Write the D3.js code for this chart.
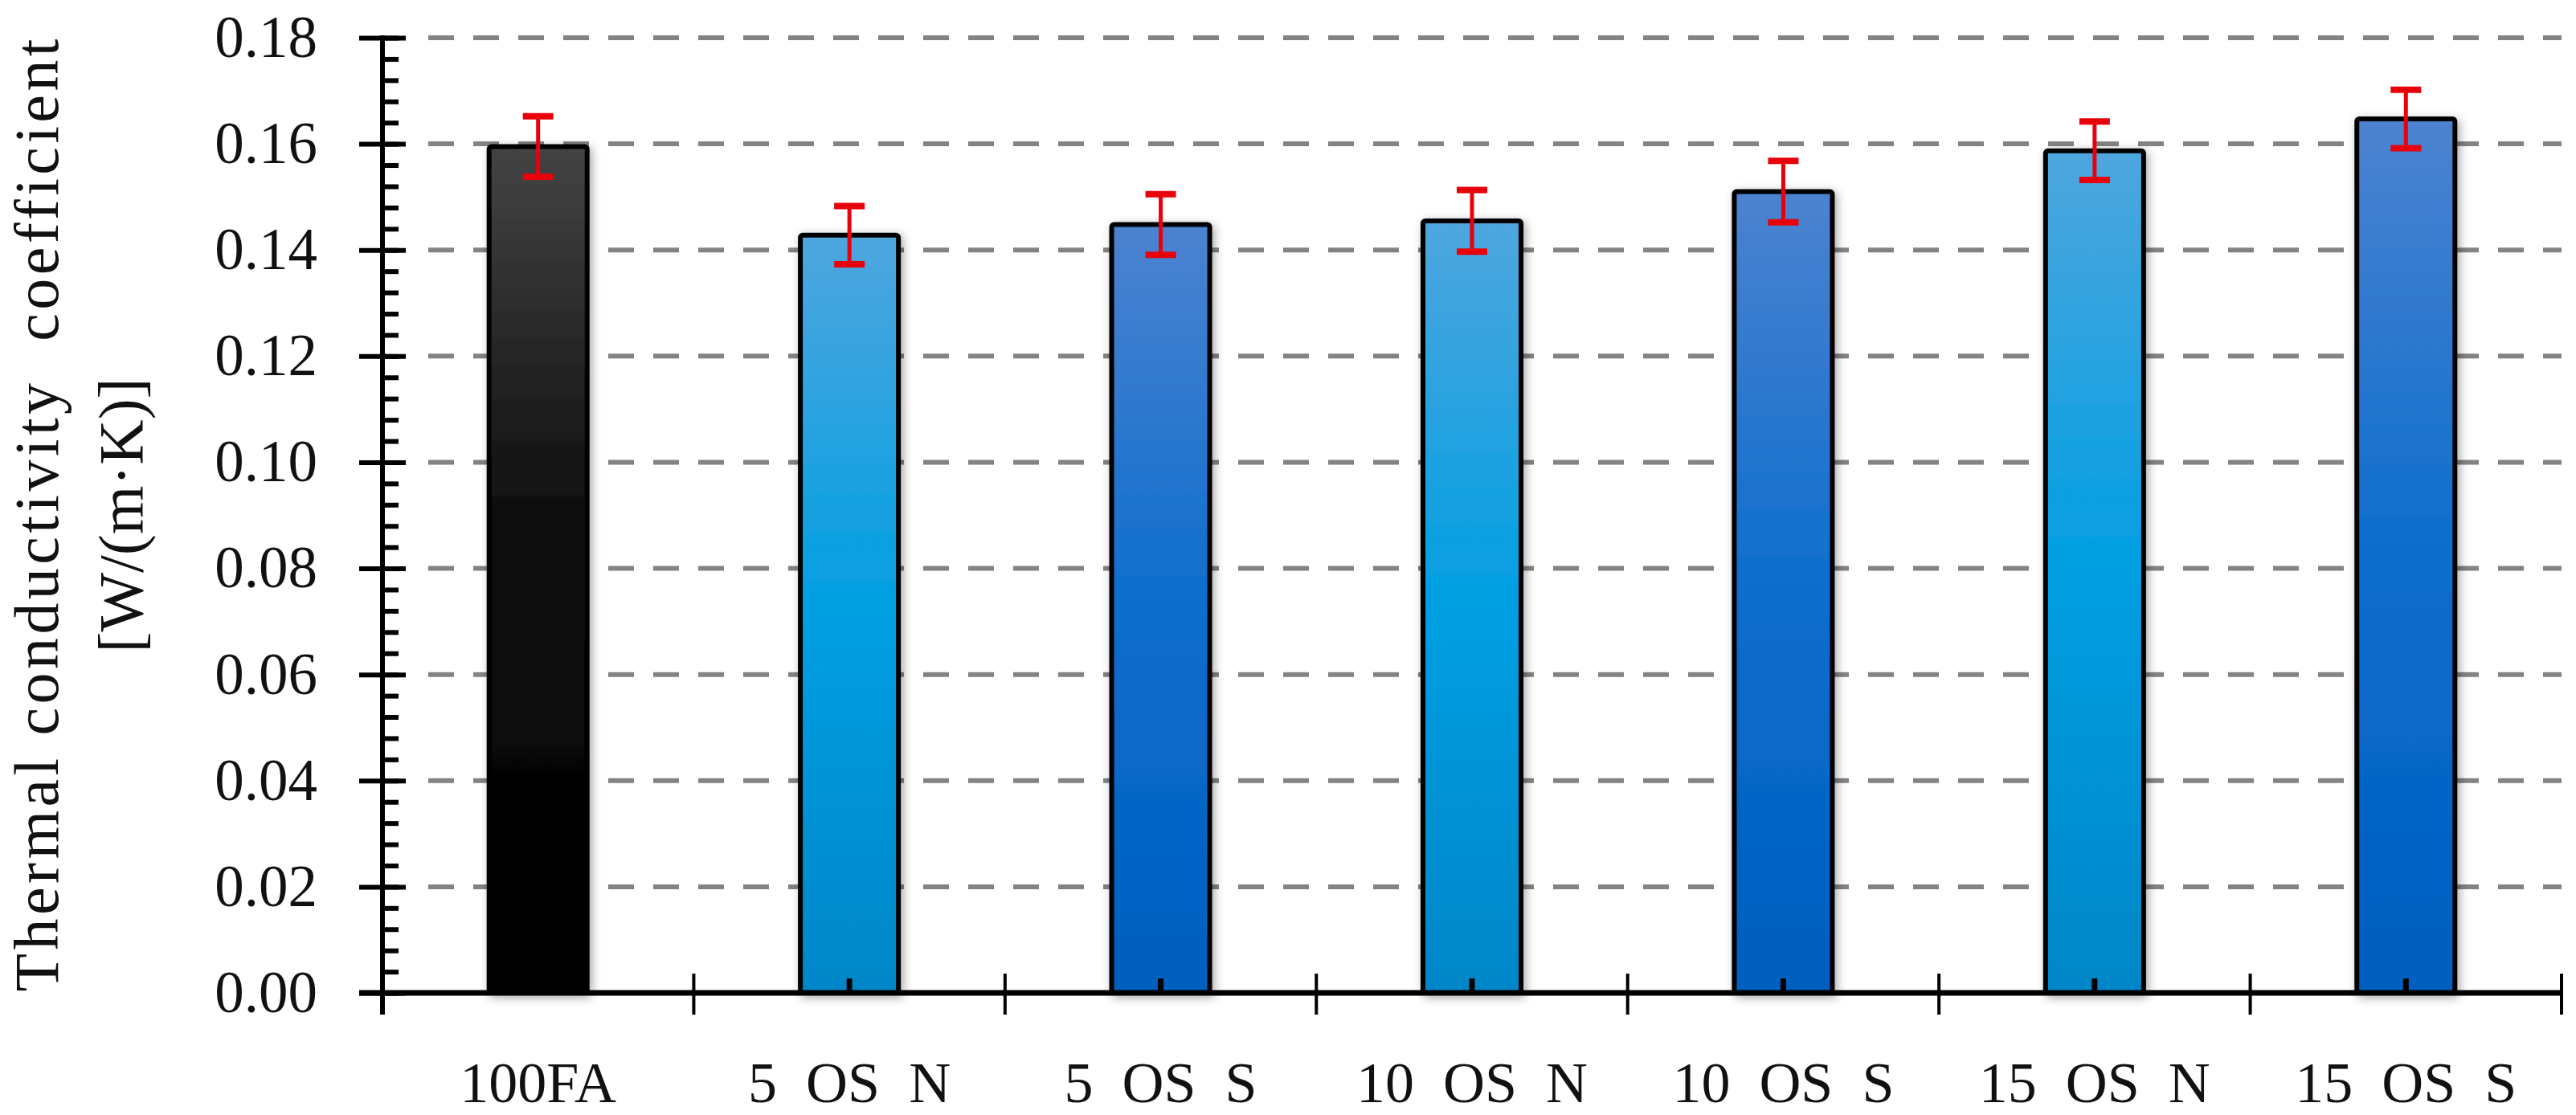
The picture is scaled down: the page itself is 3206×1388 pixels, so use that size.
<!DOCTYPE html>
<html><head><meta charset="utf-8">
<script src="https://cdn.jsdelivr.net/npm/d3@7"></script>
<style>
html,body{margin:0;padding:0;background:#fff;}
svg{display:block;}
text{font-family:"Liberation Serif","Times New Roman",serif;fill:#111;}
</style>
</head><body>
<svg id="chart" width="3206" height="1388"></svg>
<script>
// ---- data ----
const categories = ["100FA", "5  OS  N", "5  OS  S", "10  OS  N", "10  OS  S", "15  OS  N", "15  OS  S"];
const values = [0.1595, 0.1428, 0.1448, 0.1455, 0.1510, 0.1587, 0.1647];
const errors = [0.0057, 0.0055, 0.0057, 0.0058, 0.0058, 0.0055, 0.0055];
const barGroups = ["ref", "N", "S", "N", "S", "N", "S"];
const yTickValues = [0, 0.02, 0.04, 0.06, 0.08, 0.10, 0.12, 0.14, 0.16, 0.18];
const yMinorTickValues = d3.range(0, 0.1801, 0.004);
const yLabelLines = ["Thermal conductivity  coefficient", "[W/(m·K)]"];

// ---- layout ----
const W = 3206, H = 1388;
const margin = {left: 476, right: 18, top: 47, bottom: 152};
const svg = d3.select("#chart");
svg.append("rect").attr("width", W).attr("height", H).attr("fill", "#fff");

const x = d3.scaleBand().domain(categories).range([margin.left, W - margin.right]).padding(0);
const y = d3.scaleLinear().domain([0, 0.18]).range([H - margin.bottom, margin.top]);
const barW = x.bandwidth() * 0.315;

// ---- defs ----
const defs = svg.append("defs");
const grads = {
  ref: [["0%", "#444444"], ["45%", "#0d0d0d"], ["100%", "#000000"]],
  N: [["0%", "#4fa6de"], ["50%", "#009fe2"], ["100%", "#0086c8"]],
  S: [["0%", "#4c83d0"], ["50%", "#0c6dcd"], ["100%", "#005fbf"]]
};
Object.entries(grads).forEach(([k, stops]) => {
  const g = defs.append("linearGradient").attr("id", "g_" + k)
    .attr("x1", 0).attr("y1", 0).attr("x2", 0).attr("y2", 1);
  stops.forEach(s => g.append("stop").attr("offset", s[0]).attr("stop-color", s[1]));
});
const f = defs.append("filter").attr("id", "shadow")
  .attr("x", "-40%").attr("y", "-10%").attr("width", "180%").attr("height", "120%");
f.append("feDropShadow").attr("dx", 3).attr("dy", 3).attr("stdDeviation", 6)
  .attr("flood-color", "#000").attr("flood-opacity", 0.35);

// ---- gridlines ----
svg.append("g").selectAll("line")
  .data(yTickValues.filter(v => v > 0))
  .join("line")
  .attr("x1", margin.left + 57).attr("x2", W - margin.right)
  .attr("y1", d => y(d)).attr("y2", d => y(d))
  .attr("stroke", "#838383").attr("stroke-width", 6)
  .attr("stroke-dasharray", "32,24");

// ---- bars ----
svg.append("g").selectAll("rect")
  .data(categories)
  .join("rect")
  .attr("x", d => x(d) + x.bandwidth() / 2 - barW / 2)
  .attr("width", barW)
  .attr("y", (d, i) => y(values[i]))
  .attr("height", (d, i) => y(0) - y(values[i]))
  .attr("rx", 3)
  .attr("fill", (d, i) => `url(#g_${barGroups[i]})`)
  .attr("stroke", "#000").attr("stroke-width", 6)
  .attr("stroke-linejoin", "round")
  .attr("filter", "url(#shadow)");

// ---- error bars ----
const eg = svg.append("g").attr("stroke", "#e8000b");
categories.forEach((c, i) => {
  const cx = x(c) + x.bandwidth() / 2;
  const capW = 38;
  eg.append("line").attr("x1", cx).attr("x2", cx)
    .attr("y1", y(values[i] + errors[i])).attr("y2", y(values[i] - errors[i]))
    .attr("stroke-width", 5);
  [values[i] + errors[i], values[i] - errors[i]].forEach(v => {
    eg.append("line").attr("x1", cx - capW / 2).attr("x2", cx + capW / 2)
      .attr("y1", y(v)).attr("y2", y(v)).attr("stroke-width", 8);
  });
});

// ---- y axis ----
const yAxisG = svg.append("g").attr("transform", `translate(${margin.left},0)`);
yAxisG.append("g")
  .call(d3.axisLeft(y).tickValues(yMinorTickValues).tickSize(-20).tickFormat(""))
  .call(g => g.select(".domain").remove())
  .call(g => g.selectAll("line").attr("stroke", "#000").attr("stroke-width", 6));
yAxisG.append("g")
  .call(d3.axisLeft(y).tickValues(yTickValues).tickSize(29).tickPadding(52).tickFormat(d3.format(".2f")))
  .call(g => g.select(".domain").remove())
  .call(g => g.selectAll(".tick line").attr("x1", 29).attr("stroke", "#000").attr("stroke-width", 6))
  .call(g => g.selectAll(".tick text").attr("font-size", 73)
      .attr("font-family", "Liberation Serif, serif").attr("fill", "#111"));
yAxisG.append("line").attr("x1", 0).attr("x2", 0)
  .attr("y1", y(0.18) - 3).attr("y2", y(0) + 27)
  .attr("stroke", "#000").attr("stroke-width", 6);

// ---- x axis ----
const xAxisG = svg.append("g").attr("transform", `translate(0,${y(0)})`);
xAxisG.append("line").attr("x1", margin.left - 29).attr("x2", W - margin.right + 2)
  .attr("y1", 0).attr("y2", 0).attr("stroke", "#000").attr("stroke-width", 7);
xAxisG.append("g")
  .call(d3.axisBottom(x).tickSize(-18).tickFormat(""))
  .call(g => g.select(".domain").remove())
  .call(g => g.selectAll("line").attr("stroke", "#000").attr("stroke-width", 7));
const boundaries = categories.map(c => x(c)).concat([x.range()[1]]);
xAxisG.append("g").selectAll("line")
  .data(boundaries.slice(1))
  .join("line")
  .attr("x1", d => d).attr("x2", d => d)
  .attr("y1", -24).attr("y2", 27)
  .attr("stroke", "#000").attr("stroke-width", 4);
svg.append("g").selectAll("text")
  .data(categories)
  .join("text")
  .attr("x", d => x(d) + x.bandwidth() / 2)
  .attr("y", y(0) + 136)
  .attr("text-anchor", "middle")
  .attr("font-size", 72)
  .style("white-space", "pre")
  .attr("xml:space", "preserve")
  .text(d => d);

// ---- y label ----
const yMid = (y(0) + y(0.18)) / 2;
svg.append("text")
  .attr("transform", `translate(72,${yMid}) rotate(-90)`)
  .attr("text-anchor", "middle")
  .attr("font-size", 78)
  .attr("textLength", 1186).attr("lengthAdjust", "spacing")
  .style("white-space", "pre")
  .text(yLabelLines[0]);
svg.append("text")
  .attr("transform", `translate(177,${yMid}) rotate(-90)`)
  .attr("text-anchor", "middle")
  .attr("font-size", 78)
  .text(yLabelLines[1]);
</script>
</body></html>
